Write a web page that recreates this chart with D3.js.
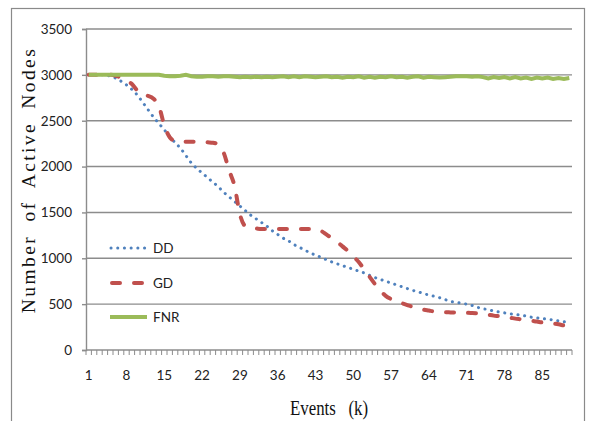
<!DOCTYPE html>
<html>
<head>
<meta charset="utf-8">
<script src="https://d3js.org/d3.v7.min.js"></script>
<style>
  body { margin: 0; background: #fff; }
  svg { display: block; }
</style>
</head>
<body>
<svg width="590" height="421"></svg>
<script>
// events (k), 1..90
const events = d3.range(1, 91);
const xLabels = [1, 8, 15, 22, 29, 36, 43, 50, 57, 64, 71, 78, 85];
const yTicks = [0, 500, 1000, 1500, 2000, 2500, 3000, 3500];

const dd = [3000, 3000, 3000, 3000, 2985, 2965, 2930, 2890, 2840, 2780,
  2700, 2620, 2540, 2470, 2400, 2330, 2260, 2200, 2120, 2040,
  1980, 1930, 1880, 1830, 1780, 1720, 1670, 1620, 1570, 1520,
  1470, 1430, 1390, 1350, 1300, 1260, 1220, 1190, 1150, 1120,
  1090, 1060, 1035, 1010, 985, 960, 940, 920, 900, 880,
  860, 840, 815, 790, 770, 750, 730, 710, 690, 670,
  650, 635, 615, 600, 585, 570, 550, 530, 520, 510,
  500, 485, 465, 450, 440, 425, 415, 405, 395, 388,
  380, 370, 358, 350, 343, 335, 328, 318, 308, 300];

const gd = [3000, 3000, 3000, 3000, 3000, 2990, 2970, 2940, 2900, 2830,
  2780, 2770, 2740, 2660, 2450, 2320, 2280, 2275, 2270, 2270,
  2270, 2270, 2265, 2260, 2240, 2150, 1960, 1790, 1480, 1350,
  1330, 1325, 1320, 1320, 1320, 1320, 1320, 1320, 1320, 1320,
  1320, 1320, 1320, 1300, 1260, 1220, 1180, 1130, 1080, 1020,
  960, 880, 800, 720, 650, 590, 555, 530, 510, 490,
  470, 455, 440, 430, 420, 415, 412, 410, 408, 405,
  405, 403, 400, 395, 385, 375, 368, 360, 352, 342,
  335, 328, 318, 310, 300, 295, 288, 280, 268, 258];

const fnr = [3000, 3000, 3000, 3000, 3000, 3000, 3000, 3000, 3000, 3000,
  3000, 3000, 3000, 3000, 2990, 2985, 2985, 2990, 3000, 2985,
  2980, 2980, 2985, 2985, 2980, 2985, 2985, 2980, 2975, 2980,
  2975, 2980, 2975, 2980, 2975, 2980, 2985, 2975, 2985, 2975,
  2985, 2980, 2975, 2980, 2985, 2975, 2980, 2970, 2980, 2975,
  2985, 2970, 2980, 2970, 2980, 2975, 2985, 2975, 2980, 2970,
  2980, 2985, 2970, 2980, 2975, 2970, 2975, 2980, 2985, 2985,
  2985, 2980, 2985, 2975, 2960, 2975, 2965, 2975, 2960, 2975,
  2960, 2970, 2955, 2970, 2960, 2970, 2955, 2965, 2955, 2965];

const series = [
  { name: "DD", values: dd, color: "#4f81bd", width: 3, dash: "0.1,6.6", cap: "round", curve: d3.curveMonotoneX },
  { name: "GD", values: gd, color: "#c0504d", width: 4, dash: "8,14", cap: "round", curve: d3.curveMonotoneX },
  { name: "FNR", values: fnr, color: "#9bbb59", width: 4, dash: null, cap: "butt", curve: d3.curveLinear }
];

const svg = d3.select("svg");
const plot = { left: 86, right: 572, top: 29, bottom: 350 };
const grid = "#8c8c8c";
const tickFont = "Lato, 'Open Sans', sans-serif";

// chart border
svg.append("rect")
  .attr("x", 11.5).attr("y", 8.5)
  .attr("width", 573).attr("height", 430)
  .attr("fill", "none").attr("stroke", "#8a8a8a").attr("stroke-width", 1.2);

let x = d3.scaleBand().domain(events).range([plot.left, plot.right]);
let y = d3.scaleLinear().domain([0, 3500]).range([plot.bottom, plot.top]);

// gridlines + y labels
svg.append("g")
  .attr("transform", `translate(${plot.left},0)`)
  .call(d3.axisLeft(y).tickValues(yTicks).tickFormat(d3.format("d")).tickSize(4).tickPadding(10))
  .call(g => g.select(".domain").attr("stroke", grid).attr("stroke-width", 1.4))
  .call(g => g.selectAll(".tick line").attr("stroke", grid).attr("stroke-width", 1.4))
  .call(g => g.selectAll(".tick text")
    .attr("font-family", tickFont).attr("font-size", 13.5).attr("fill", "#222"));

svg.append("g")
  .selectAll("line")
  .data(yTicks)
  .join("line")
  .attr("x1", plot.left).attr("x2", plot.right)
  .attr("y1", d => y(d)).attr("y2", d => y(d))
  .attr("stroke", grid).attr("stroke-width", 1.4);

// x axis: a minor tick at every category boundary, labels every 7
let bounds = events.map(k => x(k)).concat([plot.right]);
svg.append("g")
  .selectAll("line")
  .data(bounds)
  .join("line")
  .attr("x1", d => d).attr("x2", d => d)
  .attr("y1", plot.bottom).attr("y2", plot.bottom + 5)
  .attr("stroke", grid).attr("stroke-width", 1);

svg.append("g")
  .attr("transform", `translate(0,${plot.bottom})`)
  .call(d3.axisBottom(x).tickValues(xLabels).tickSize(0).tickPadding(20))
  .call(g => g.select(".domain").remove())
  .call(g => g.selectAll(".tick text")
    .attr("font-family", tickFont).attr("font-size", 13.5).attr("fill", "#222"));

// series
let lineGen = s => d3.line()
  .x((d, i) => x(events[i]) + x.bandwidth() / 2)
  .y(d => y(d))
  .curve(s.curve);

svg.append("g")
  .selectAll("path")
  .data(series)
  .join("path")
  .attr("d", s => lineGen(s)(s.values))
  .attr("fill", "none")
  .attr("stroke", s => s.color)
  .attr("stroke-width", s => s.width)
  .attr("stroke-dasharray", s => s.dash)
  .attr("stroke-linecap", s => s.cap);

// legend
let legendY = [248, 283, 317];
let legend = svg.append("g")
  .selectAll("g")
  .data(series)
  .join("g")
  .attr("transform", (s, i) => `translate(110,${legendY[i]})`);

legend.append("line")
  .attr("x1", s => s.name == "DD" ? 1 : (s.name == "GD" ? 2 : 0))
  .attr("x2", 37)
  .attr("stroke", s => s.color)
  .attr("stroke-width", s => s.width)
  .attr("stroke-dasharray", s => s.dash)
  .attr("stroke-linecap", s => s.cap);

legend.append("text")
  .attr("x", 43).attr("y", 5)
  .text(s => s.name)
  .attr("font-family", tickFont).attr("font-size", 13.5).attr("fill", "#222");

// axis titles
svg.append("text")
  .attr("transform", "translate(35,180) rotate(-90)")
  .attr("text-anchor", "middle")
  .attr("font-family", "'Liberation Serif', 'Times New Roman', serif")
  .attr("font-size", 19.5)
  .attr("letter-spacing", 2.4)
  .attr("word-spacing", 6)
  .attr("fill", "#111")
  .text("Number of Active Nodes");

svg.append("text")
  .attr("x", 290).attr("y", 415)
  .attr("textLength", 78)
  .attr("lengthAdjust", "spacingAndGlyphs")
  .attr("font-family", "'Liberation Serif', 'Times New Roman', serif")
  .attr("font-size", 20)
  .attr("fill", "#111")
  .style("white-space", "pre")
  .text("Events   (k)");
</script>
</body>
</html>
